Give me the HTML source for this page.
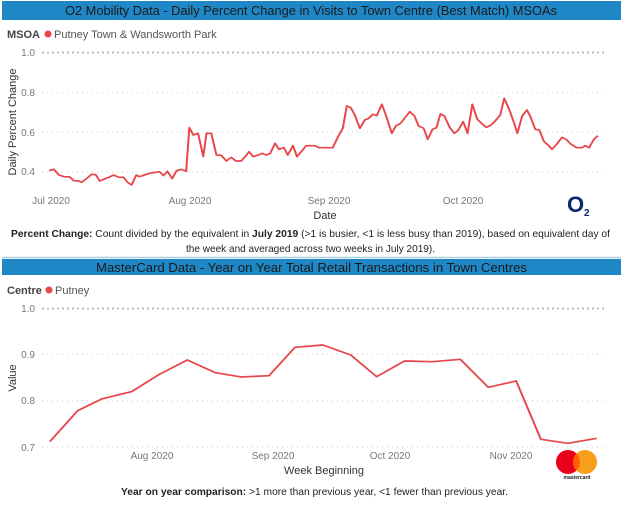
<!DOCTYPE html>
<html><head><style>
body{margin:0;background:#fff;}
svg{display:block;font-family:"Liberation Sans",sans-serif;}
</style></head><body>
<svg width="625" height="517" viewBox="0 0 625 517" xmlns="http://www.w3.org/2000/svg">
<!-- Top -->
<rect x="2" y="1" width="619" height="19" fill="#1f87c6"/>
<text x="65" y="15" font-size="13" fill="#1a1a1a" textLength="492" lengthAdjust="spacingAndGlyphs">O2 Mobility Data - Daily Percent Change in Visits to Town Centre (Best Match) MSOAs</text>
<text x="7" y="38" font-size="11" font-weight="bold" fill="#444">MSOA</text>
<circle cx="48" cy="34" r="3.5" fill="#e8464a"/>
<text x="54" y="38" font-size="11" fill="#555">Putney Town &amp; Wandsworth Park</text>
<g stroke="#ccc" stroke-width="1" stroke-dasharray="1,4">
<line x1="42" y1="52.5" x2="605" y2="52.5" stroke="#bbb" stroke-width="2" stroke-dasharray="2,3"/>
<line x1="42" y1="93" x2="605" y2="93"/><line x1="42" y1="132" x2="605" y2="132"/><line x1="42" y1="172" x2="605" y2="172"/>
</g>
<g font-size="10" fill="#777" text-anchor="end">
<text x="35" y="56">1.0</text><text x="35" y="96">0.8</text><text x="35" y="136">0.6</text><text x="35" y="175">0.4</text>
</g>
<text transform="translate(16,122) rotate(-90)" text-anchor="middle" font-size="11" fill="#333">Daily Percent Change</text>
<g font-size="10" fill="#777" text-anchor="middle">
<text x="51" y="204">Jul 2020</text><text x="190" y="204">Aug 2020</text><text x="329" y="204">Sep 2020</text><text x="463" y="204">Oct 2020</text>
</g>
<text x="325" y="219" text-anchor="middle" font-size="11" fill="#333">Date</text>
<text x="567" y="212" font-size="22" font-weight="bold" fill="#0b2a6e">O</text><text x="584" y="216" font-size="10" font-weight="bold" fill="#0b2a6e">2</text>
<g transform="scale(0.3986,0.3333)">
<polyline fill="none" stroke="#e8464a" stroke-width="5" stroke-linejoin="round" points="123,512 135,508 148,525 160,530 175,531 185,542 198,543 205,547 218,535 230,523 240,524 250,543 262,537 275,531 285,525 298,532 310,532 320,547 330,555 342,525 350,530 360,526 375,520 385,518 400,515 410,527 420,514 432,536 443,512 455,508 467,514 475,383 485,405 497,400 510,470 518,400 530,400 543,465 555,466 568,483 580,472 592,483 605,483 615,470 625,455 635,470 648,465 658,460 668,465 678,460 690,430 700,448 712,443 722,465 735,437 745,470 758,452 768,437 790,437 800,443 835,443 848,410 860,385 870,318 880,323 890,345 903,385 915,360 925,355 935,343 945,347 958,313 968,345 983,400 993,378 1005,370 1015,355 1028,335 1040,348 1050,378 1063,385 1073,418 1085,388 1095,383 1105,342 1115,348 1128,382 1140,400 1150,390 1162,365 1173,400 1185,313 1197,357 1208,370 1220,382 1232,375 1243,362 1255,345 1265,295 1278,330 1290,370 1298,400 1310,348 1322,330 1330,348 1343,388 1353,390 1365,425 1375,435 1385,448 1397,432 1410,412 1420,418 1433,433 1447,443 1460,443 1468,437 1478,443 1490,418 1500,407"/>
</g>
<text x="11" y="237" font-size="10.5" fill="#222" textLength="599" lengthAdjust="spacingAndGlyphs"><tspan font-weight="bold">Percent Change:</tspan> Count divided by the equivalent in <tspan font-weight="bold">July 2019</tspan> (&gt;1 is busier, &lt;1 is less busy than 2019), based on equivalent day of</text>
<text x="186" y="252" font-size="10.5" fill="#222" textLength="249" lengthAdjust="spacingAndGlyphs">the week and averaged across two weeks in July 2019).</text>
<line x1="2" y1="257.5" x2="621" y2="257.5" stroke="#a9cfe0" stroke-width="1.5"/>
<!-- Bottom -->
<rect x="2" y="259" width="619" height="16" fill="#1f87c6"/>
<text x="96" y="272" font-size="13" fill="#1a1a1a" textLength="431" lengthAdjust="spacingAndGlyphs">MasterCard Data - Year on Year Total Retail Transactions in Town Centres</text>
<text x="7" y="294" font-size="11" font-weight="bold" fill="#444">Centre</text>
<circle cx="49" cy="290" r="3.5" fill="#e8464a"/>
<text x="55" y="294" font-size="11" fill="#555">Putney</text>
<g stroke="#ccc" stroke-width="1" stroke-dasharray="1,4">
<line x1="42" y1="308.5" x2="605" y2="308.5" stroke="#bbb" stroke-width="2" stroke-dasharray="2,3"/>
<line x1="42" y1="354" x2="605" y2="354"/><line x1="42" y1="401" x2="605" y2="401"/><line x1="42" y1="447" x2="605" y2="447"/>
</g>
<g font-size="10" fill="#777" text-anchor="end">
<text x="35" y="312">1.0</text><text x="35" y="358">0.9</text><text x="35" y="404">0.8</text><text x="35" y="451">0.7</text>
</g>
<text transform="translate(16,378) rotate(-90)" text-anchor="middle" font-size="11" fill="#333">Value</text>
<g font-size="10" fill="#777" text-anchor="middle">
<text x="152" y="459">Aug 2020</text><text x="273" y="459">Sep 2020</text><text x="390" y="459">Oct 2020</text><text x="511" y="459">Nov 2020</text>
</g>
<text x="324" y="474" text-anchor="middle" font-size="11" fill="#333">Week Beginning</text>
<circle cx="568" cy="462" r="12" fill="#eb001b"/>
<circle cx="585" cy="462" r="12" fill="#f79e1b"/>
<path d="M576.5 453.5 A12 12 0 0 1 576.5 470.5 A12 12 0 0 1 576.5 453.5Z" fill="#ff5f00"/>
<text x="577" y="479" text-anchor="middle" font-size="5" fill="#222" font-weight="bold">mastercard</text>
<g transform="translate(0,255) scale(0.3986,0.3333)">
<polyline fill="none" stroke="#e8464a" stroke-width="5" stroke-linejoin="round" points="125,560 195,467 255,432 330,410 400,358 470,315 540,353 605,366 675,362 740,277 810,270 880,300 945,365 1015,318 1085,320 1155,313 1225,397 1295,378 1357,553 1425,565 1497,550"/>
</g>
<text x="121" y="495" font-size="10.5" fill="#222" textLength="387" lengthAdjust="spacingAndGlyphs"><tspan font-weight="bold">Year on year comparison:</tspan> &gt;1 more than previous year, &lt;1 fewer than previous year.</text>
</svg>
</body></html>
